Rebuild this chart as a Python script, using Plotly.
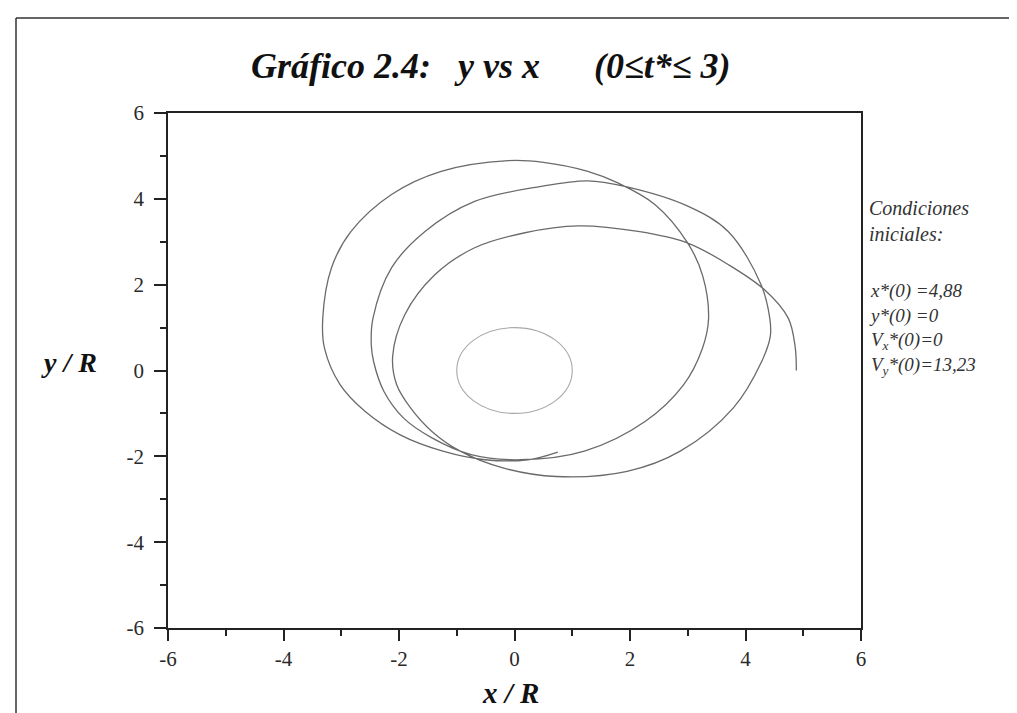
import plotly.graph_objects as go

# ---- data ----
orbit_x = [4.88, 4.86, 4.74, 4.33, 3.70, 3.00, 2.14, 1.10, 0.18, -0.69, -1.38, -1.90, -2.11, -2.04,
           -1.80, -1.43, -0.94, -0.20, 0.72, 1.95, 2.87, 3.79, 4.28, 4.43, 4.42, 4.27, 3.70, 3.00,
           1.91, 1.27, 0.46, -0.69, -1.55, -2.13, -2.45, -2.48, -2.44, -2.26, -1.92, -1.43, -0.75,
           0.11, 1.21, 2.26, 2.93, 3.25, 3.36, 3.26, 3.00, 2.43, 1.79, 1.27, 0.50, -0.11, -1.27,
           -2.13, -2.83, -3.17, -3.32, -3.29, -3.02, -2.59, -1.98, -1.24, -0.51, 0.23, 0.75]
orbit_y = [0.00, 0.55, 1.22, 1.88, 2.47, 2.97, 3.24, 3.37, 3.21, 2.86, 2.23, 1.30, 0.33, -0.33,
           -0.87, -1.42, -1.88, -2.27, -2.47, -2.35, -1.88, -0.87, 0.21, 0.80, 1.22, 2.00, 3.24, 3.83,
           4.29, 4.42, 4.29, 3.94, 3.24, 2.39, 1.22, 0.60, 0.21, -0.49, -1.11, -1.57, -1.96,
           -2.08, -1.88, -1.19, -0.33, 0.50, 1.20, 2.20, 2.97, 3.87, 4.37, 4.64, 4.85, 4.89, 4.64,
           4.10, 3.24, 2.39, 1.22, 0.52, -0.33, -0.95, -1.50, -1.88, -2.08, -2.08, -1.90]

earth_radius = 1.0
earth_center = (0.0, 0.0)

major_ticks = [-6, -4, -2, 0, 2, 4, 6]
minor_ticks = [-5, -3, -1, 1, 3, 5]
tick_labels = ["-6", "-4", "-2", "0", "2", "4", "6"]

title_text = "Gráfico 2.4:\u00a0\u00a0\u00a0y\u00a0vs\u00a0x\u00a0\u00a0\u00a0\u00a0\u00a0\u00a0(0≤t*≤\u00a03)"
cond_header = ["Condiciones", "iniciales:"]
cond_values = ["x*(0) =4,88", "y*(0) =0", "V<sub>x</sub>*(0)=0", "V<sub>y</sub>*(0)=13,23"]

# ---- figure ----
W, H = 1017, 713
L, R, T, B = 160, 853, 105, 620
pw, ph = R - L, B - T

def px(xp):
    return (xp - L) / pw

def py(yp):
    return (B - yp) / ph

serif = "Liberation Serif, Times New Roman, serif"

fig = go.Figure()
fig.add_trace(go.Scatter(x=orbit_x, y=orbit_y, mode="lines",
                         line=dict(color="#6a6a6a", width=1.3, shape="spline", smoothing=1.0),
                         hoverinfo="skip", showlegend=False))

fig.add_shape(type="circle", xref="x", yref="y",
              x0=earth_center[0] - earth_radius, x1=earth_center[0] + earth_radius,
              y0=earth_center[1] - earth_radius, y1=earth_center[1] + earth_radius,
              line=dict(color="#a8a8a8", width=1.1))

axis_common = dict(range=[-6, 6], showgrid=False, zeroline=False, showline=True,
                   linecolor="#222", linewidth=1.5, mirror=True,
                   ticks="outside", tickcolor="#222", tickwidth=1.5,
                   tickvals=major_ticks, ticktext=tick_labels,
                   tickfont=dict(family=serif, size=21, color="#2a2a2a"),
                   minor=dict(tickvals=minor_ticks, ticks="outside", ticklen=6,
                              tickcolor="#222", tickwidth=1.5))
fig.update_xaxes(**axis_common, ticklen=11)
fig.update_yaxes(**axis_common, ticklen=12, ticklabelstandoff=6)

ann = []
ann.append(dict(text="<b><i>" + title_text + "</i></b>", x=px(482), y=py(58),
                xref="paper", yref="paper", showarrow=False,
                font=dict(family=serif, size=36, color="#111"), xanchor="center", yanchor="middle"))
ann.append(dict(text="<b><i>y / R</i></b>", x=px(61), y=py(354),
                xref="paper", yref="paper", showarrow=False,
                font=dict(family=serif, size=28, color="#111"), xanchor="center", yanchor="middle"))
ann.append(dict(text="<b><i>x / R</i></b>", x=px(502), y=py(685),
                xref="paper", yref="paper", showarrow=False,
                font=dict(family=serif, size=29, color="#111"), xanchor="center", yanchor="middle"))
ann.append(dict(text="<i>" + "<br>".join(cond_header) + "</i>", x=px(859), y=py(187),
                xref="paper", yref="paper", showarrow=False, align="left",
                font=dict(family=serif, size=20, color="#333"),
                xanchor="left", yanchor="top"))
ann.append(dict(text="<i>" + "<br>".join(cond_values) + "</i>", x=px(859), y=py(270),
                xref="paper", yref="paper", showarrow=False, align="left",
                font=dict(family=serif, size=19, color="#333"),
                xanchor="left", yanchor="top"))

# page frame lines
fig.add_shape(type="line", xref="paper", yref="paper", x0=px(8), x1=px(1017), y0=py(10), y1=py(10),
              line=dict(color="#333", width=1.5))
fig.add_shape(type="line", xref="paper", yref="paper", x0=px(8), x1=px(8), y0=py(10), y1=py(713),
              line=dict(color="#333", width=1.5))

fig.update_layout(width=W, height=H, margin=dict(l=L, r=W - R, t=T, b=H - B),
                  paper_bgcolor="white", plot_bgcolor="white", annotations=ann,
                  showlegend=False)

fig.write_html("out.html")
